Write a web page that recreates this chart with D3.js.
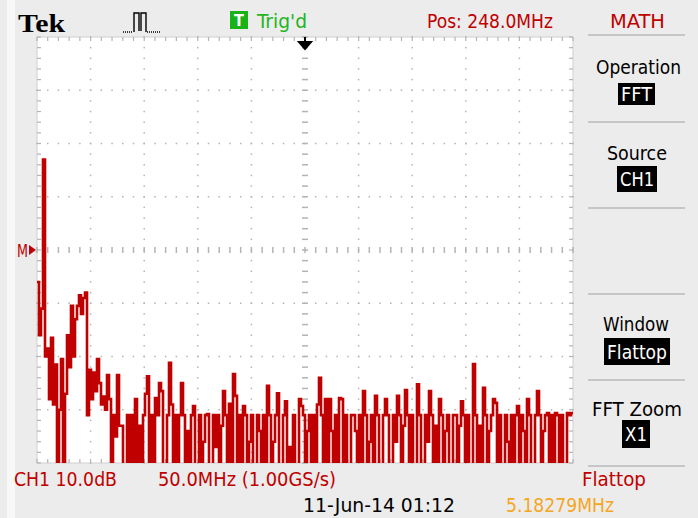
<!DOCTYPE html>
<html>
<head>
<meta charset="utf-8">
<script src="https://cdn.jsdelivr.net/npm/d3@7"></script>
<style>
  html, body { margin: 0; padding: 0; background: #ececec; }
  svg { display: block; }
  .ui { font-family: "DejaVu Sans Condensed", "Liberation Sans Narrow", "DejaVu Sans", sans-serif; }
</style>
</head>
<body>
<svg width="698" height="518"></svg>
<script>
"use strict";

// FFT magnitude, dB relative to the M marker (10 dB / div), one value per sample.
// Values below -40 fall off the bottom of the screen.
const traceDb = [
  -6, -16, -11, 17, -20, -18.5, -28, -16.5, -29, -21.5,
  -45, -30, -20.5, -45, -27, -16, -22, -10.5, -20, -13,
  -10.5, -8.5, -12, -9, -8, -31, -22.5, -28, -23, -26.5,
  -20.5, -25, -29, -27.5, -30, -23.5, -28, -45, -31, -35,
  -23.5, -33,
  -33, -45, -45, -31, -45, -31, -45, -28, -45, -33,
  -45, -31, -27, -23.7, -45, -31, -45, -27.8, -31, -25,
  -26.5, -45, -45, -31, -21.2, -29, -45, -31, -45, -31,
  -25, -31, -45, -34, -45, -31, -29.3, -45, -45, -31,
  -45, -36, -31, -30.8, -45, -45, -31, -37, -31, -45,
  -33, -26.5, -31, -45, -28.9, -45, -23.3, -27.4, -45, -31,
  -45, -29.3, -31, -45, -36, -31, -45, -45, -31, -34,
  -45, -31, -45, -25.5, -31, -45, -36, -31, -26.9, -45,
  -45, -31, -28.4, -45, -37, -45, -31, -45, -45, -28,
  -29.3, -31, -45, -34, -31, -45, -31, -45, -29, -24,
  -31, -45, -28, -45, -28, -34, -45, -31, -45, -27.8,
  -28, -45, -31, -45, -45, -31, -31, -34, -45, -31,
  -45, -26.5, -31, -45, -36, -31, -45, -27.4, -31, -45,
  -45, -31, -28, -31, -45, -45, -31, -36, -27.4, -31,
  -45, -33, -26.3, -31, -45, -31, -45, -45, -25.2, -31,
  -45, -45, -31, -36, -26.5, -31, -45, -33, -45, -28,
  -31, -45, -34, -31, -45, -45, -31, -31, -45, -33,
  -28.4, -31, -45, -31, -45, -45, -21.4, -31, -45, -33,
  -45, -25.9, -31, -45, -34, -31, -28, -28.7, -45, -31,
  -45, -45, -31, -36, -45, -31, -45, -31, -29.3, -45,
  -31, -34, -45, -28, -31, -45, -45, -31, -26.5, -31,
  -45, -34, -31, -30.6, -45, -31, -45, -30.6, -31, -45,
  -31, -45, -45, -30.6, -31, -30.6
];

// Screen readouts.
const headerTexts = ["Trig'd", "Pos: 248.0MHz", "MATH"];
const footerTexts = ["CH1 10.0dB", "50.0MHz (1.00GS/s)", "Flattop", "11-Jun-14 01:12", "5.18279MHz"];
const menuTitles = ["Operation", "Source", "Window", "FFT Zoom"];
const menuValues = ["FFT", "CH1", "Flattop", "X1"];

const RED = "#c00000";
const plot = { left: 37, right: 573, top: 37, bottom: 463 };

const svg = d3.select("svg");

// white strip at the far left of the capture
svg.append("rect").attr("x", 7).attr("y", 0).attr("width", 8).attr("height", 518).attr("fill", "#f8f8f8");

// graticule area
svg.append("rect")
  .attr("x", plot.left).attr("y", plot.top)
  .attr("width", plot.right - plot.left).attr("height", plot.bottom - plot.top)
  .attr("fill", "#ffffff")
  .attr("stroke", "#d0d0d0");

// Division scales: 10 horizontal divisions, 8 vertical.
const xDiv = d3.scaleLinear().domain([0, 10]).range([plot.left, plot.right]);
const yDiv = d3.scaleLinear().domain([-4, 4]).range([plot.bottom, plot.top]);
const xMinor = d3.range(0, 51).map(d => d / 5);
const yMinor = d3.range(0, 41).map(d => d / 5 - 4);

const grid = svg.append("g").attr("fill", "#b4b4b4");
function dot(cx, cy, w, h) {
  grid.append("rect").attr("x", cx - w / 2).attr("y", cy - h / 2).attr("width", w).attr("height", h);
}

// dotted division lines
[1, 2, 3, 4, 6, 7, 8, 9].forEach(k => yMinor.forEach(v => dot(xDiv(k), yDiv(v), 1.5, 1.5)));
[-3, -2, -1, 1, 2, 3].forEach(k => xMinor.forEach(v => dot(xDiv(v), yDiv(k), 1.5, 1.5)));

// centre lines carry short minor ticks
xMinor.forEach(v => dot(xDiv(v), yDiv(0), 1.5, 6));
yMinor.forEach(v => dot(xDiv(5), yDiv(v), 6, 1.5));

// ticks on the frame
xMinor.forEach(v => {
  dot(xDiv(v), plot.top + 2, 1.2, 4);
  dot(xDiv(v), plot.bottom - 2, 1.2, 4);
});
yMinor.forEach(v => {
  dot(plot.left + 2, yDiv(v), 4, 1.2);
  dot(plot.right - 2, yDiv(v), 4, 1.2);
});

// the FFT trace
const x = d3.scaleLinear().domain([0, traceDb.length]).range([plot.left, plot.right]);
const y = d3.scaleLinear().domain([-40, 40]).range([plot.bottom, plot.top]);

svg.append("clipPath").attr("id", "screen")
  .append("rect")
  .attr("x", plot.left).attr("y", plot.top)
  .attr("width", plot.right - plot.left).attr("height", plot.bottom - plot.top);

const line = d3.line()
  .x((d, i) => x(i))
  .y(d => y(d))
  .curve(d3.curveStepAfter);

svg.append("path")
  .datum(traceDb.concat([traceDb[traceDb.length - 1]]))
  .attr("clip-path", "url(#screen)")
  .attr("fill", "none")
  .attr("stroke", RED)
  .attr("stroke-width", 2.6)
  .attr("d", line);

// trigger position arrow
const trigX = xDiv(5);
svg.append("path")
  .attr("d", `M${trigX},${plot.top}V${plot.top + 6}M${trigX - 6},${plot.top + 5}H${trigX + 6}L${trigX},${plot.top + 12}Z`)
  .attr("stroke", "#000").attr("stroke-width", 2).attr("fill", "#000");

// M reference marker
svg.append("text").attr("class", "ui")
  .attr("x", 17).attr("y", yDiv(0) + 7)
  .attr("font-size", 18).attr("fill", RED)
  .attr("textLength", 11).attr("lengthAdjust", "spacingAndGlyphs")
  .text("M");
svg.append("path")
  .attr("d", `M${plot.left - 1},${yDiv(0)}L${plot.left - 8},${yDiv(0) - 5}V${yDiv(0) + 5}Z`)
  .attr("fill", RED);

// header
svg.append("text")
  .attr("x", 18).attr("y", 32)
  .attr("font-family", "'Liberation Serif', 'DejaVu Serif', serif")
  .attr("font-weight", "bold")
  .attr("font-size", 26)
  .attr("textLength", 47).attr("lengthAdjust", "spacingAndGlyphs")
  .attr("fill", "#000")
  .text("Tek");

svg.append("path")
  .attr("d", "M134,32V13H139V31M141,31V13H146V32")
  .attr("fill", "none").attr("stroke", "#000").attr("stroke-width", 1.4);
svg.append("path")
  .attr("d", "M123,32H133M147,32H160")
  .attr("fill", "none").attr("stroke", "#000").attr("stroke-width", 1.4).attr("stroke-dasharray", "1,1");

svg.append("rect").attr("x", 230).attr("y", 11).attr("width", 18).attr("height", 18).attr("fill", "#19b319");
svg.append("text").attr("class", "ui")
  .attr("x", 239).attr("y", 26).attr("text-anchor", "middle")
  .attr("font-size", 16).attr("font-weight", "bold").attr("fill", "#fff")
  .text("T");

const header = [
  { text: headerTexts[0], x: 257, w: 50, fill: "#22b522" },
  { text: headerTexts[1], x: 427, w: 126, fill: RED },
  { text: headerTexts[2], x: 610, w: 55, fill: RED }
];
svg.selectAll(".head")
  .data(header)
  .enter()
  .append("text")
  .attr("class", "ui head")
  .attr("x", d => d.x).attr("y", 28)
  .attr("font-size", 20)
  .attr("textLength", d => d.w).attr("lengthAdjust", "spacingAndGlyphs")
  .attr("fill", d => d.fill)
  .text(d => d.text);

// right-hand menu
const sepY = [35, 122, 208, 294, 380, 466];
svg.selectAll(".sep")
  .data(sepY)
  .enter()
  .append("line")
  .attr("x1", 588).attr("x2", 685)
  .attr("y1", d => d).attr("y2", d => d)
  .attr("stroke", "#c6c6c6").attr("stroke-width", 2);

const menuLayout = [
  { tx: 596, tw: 85, ty: 74, bx: 618, bw: 37, by: 83, bh: 22 },
  { tx: 607, tw: 60, ty: 160, bx: 617, bw: 40, by: 166, bh: 26 },
  { tx: 603, tw: 66, ty: 331, bx: 604, bw: 66, by: 338, bh: 27 },
  { tx: 592, tw: 90, ty: 416, bx: 622, bw: 28, by: 420, bh: 28 }
];
menuTitles.forEach((t, i) => {
  const m = menuLayout[i];
  svg.append("text").attr("class", "ui")
    .attr("x", m.tx).attr("y", m.ty)
    .attr("font-size", 20).attr("fill", "#000")
    .attr("textLength", m.tw).attr("lengthAdjust", "spacingAndGlyphs")
    .text(t);
  svg.append("rect")
    .attr("x", m.bx).attr("y", m.by)
    .attr("width", m.bw).attr("height", m.bh)
    .attr("fill", "#000");
  svg.append("text").attr("class", "ui")
    .attr("x", m.bx + 3).attr("y", m.by + m.bh / 2 + 7)
    .attr("font-size", 20).attr("fill", "#fff")
    .attr("textLength", m.bw - 6).attr("lengthAdjust", "spacingAndGlyphs")
    .text(menuValues[i]);
});

// footer readouts
const footer = [
  { text: footerTexts[0], x: 14, w: 103, y: 486, fill: RED },
  { text: footerTexts[1], x: 158, w: 178, y: 486, fill: RED },
  { text: footerTexts[2], x: 582, w: 64, y: 486, fill: RED },
  { text: footerTexts[3], x: 303, w: 152, y: 512, fill: "#000" },
  { text: footerTexts[4], x: 506, w: 108, y: 512, fill: "#f5a623" }
];
svg.selectAll(".foot")
  .data(footer)
  .enter()
  .append("text")
  .attr("class", "ui foot")
  .attr("x", d => d.x).attr("y", d => d.y)
  .attr("font-size", 20)
  .attr("textLength", d => d.w).attr("lengthAdjust", "spacingAndGlyphs")
  .attr("fill", d => d.fill)
  .text(d => d.text);
</script>
</body>
</html>
